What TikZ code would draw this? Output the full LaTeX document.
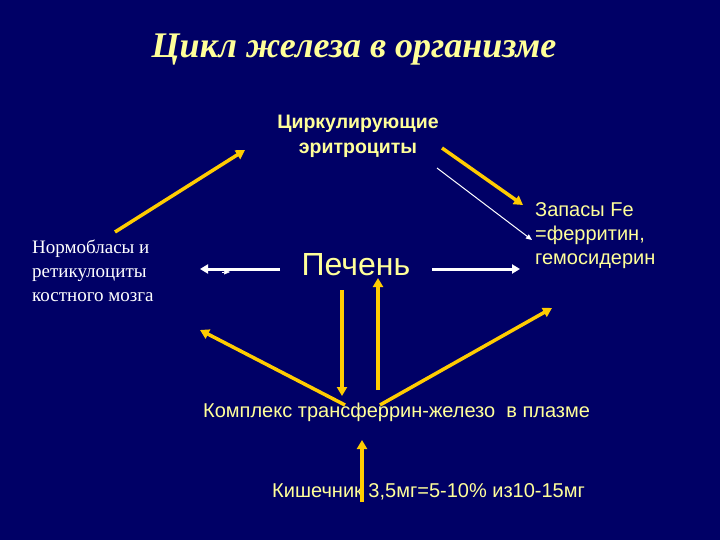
\documentclass[tikz,border=0pt]{standalone}
\usepackage{fontspec}
\setmainfont{Liberation Serif}
\newfontfamily\sans{Liberation Sans}
\usetikzlibrary{arrows.meta}
\definecolor{bg}{HTML}{000066}
\definecolor{ylw}{HTML}{FFCC00}
\definecolor{txt}{HTML}{FFFF99}
\begin{document}
\begin{tikzpicture}[x=1pt,y=-1pt,
  yarrow/.style={ylw,line width=3.5pt,-{Triangle[length=9pt,width=10pt]}},
  warrow/.style={white,line width=3pt,-{Triangle[length=8pt,width=9pt]}},
  lbl/.style={inner sep=0pt,align=center}]
\fill[bg] (0,0) rectangle (720,540);
\useasboundingbox (0,0) rectangle (720,540);
\node[lbl,txt,font=\fontsize{36}{40}\selectfont\bfseries\itshape] (title) at (354,50) {Цикл железа в организме};
\node[lbl,txt,font=\sans\fontsize{19.5}{25}\selectfont\bfseries] (ery) at (358,136) {Циркулирующие\\эритроциты};
\node[lbl,white,align=left,anchor=west,font=\fontsize{19}{24}\selectfont] (norm) at (32,271) {Нормобласы и\\ретикулоциты\\костного мозга};
\node[lbl,txt,font=\sans\fontsize{32}{36}\selectfont] (liv) at (356,265) {Печень};
\node[lbl,txt,align=left,anchor=west,font=\sans\fontsize{20}{24}\selectfont] (stor) at (535,236) {Запасы Fe\\=ферритин,\\гемосидерин};
\node[lbl,txt,anchor=west,font=\sans\fontsize{20}{22}\selectfont] (plas) at (203,412) {Комплекс трансферрин-железо\ \ в плазме};
\node[lbl,txt,anchor=west,font=\sans\fontsize{20}{22}\selectfont] (gut) at (272,492) {Кишечник 3,5мг=5-10\% из10-15мг};
\coordinate (a1) at (115,232); \coordinate (a2) at (245,150);
\coordinate (b1) at (442,148); \coordinate (b2) at (523,205);
\coordinate (c1) at (437,168); \coordinate (c2) at (532,240);
\coordinate (d1) at (280,269); \coordinate (d2) at (200,269);
\coordinate (e1) at (432,269); \coordinate (e2) at (520,269);
\coordinate (f1) at (342,290); \coordinate (f2) at (342,396);
\coordinate (g1) at (378,390); \coordinate (g2) at (378,278);
\coordinate (h1) at (345,405); \coordinate (h2) at (200,330);
\coordinate (i1) at (380,405); \coordinate (i2) at (552,308);
\coordinate (j1) at (362,502); \coordinate (j2) at (362,440);
\coordinate (k1) at (222,272); \coordinate (k2) at (230,272);
\draw[yarrow] (a1) -- (a2);
\draw[yarrow] (b1) -- (b2);
\draw[white,line width=1pt,-{Triangle[length=6pt,width=5pt]}] (c1) -- (c2);
\draw[warrow] (d1) -- (d2);
\draw[white,line width=0.5pt,-{Triangle[length=6pt,width=5pt]}] (k1) -- (k2);
\draw[warrow] (e1) -- (e2);
\draw[yarrow] (f1) -- (f2);
\draw[yarrow] (g1) -- (g2);
\draw[yarrow] (h1) -- (h2);
\draw[yarrow] (i1) -- (i2);
\draw[yarrow] (j1) -- (j2);
\end{tikzpicture}
\end{document}
